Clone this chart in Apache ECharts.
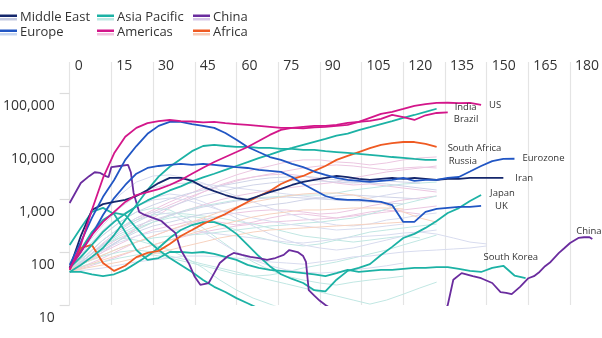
<!DOCTYPE html>
<html>
<head>
<meta charset="utf-8">
<script src="https://cdn.jsdelivr.net/npm/echarts@6/dist/echarts.min.js"></script>
<style>
  html, body { margin: 0; padding: 0; background: #fff; }
  #chart { width: 602px; height: 338px; }
</style>
</head>
<body>
<div id="chart"></div>
<script>
// Days since the outbreak took hold (x), 7-day average of new cases (log y)
const xTicks = [0, 15, 30, 45, 60, 75, 90, 105, 120, 135, 150, 165, 180];
const yTicks = [10, 100, 1000, 10000, 100000];

// Highlighted countries, one value every 4 days from day 0
const usCases = [46, 136, 620, 2500, 7300, 15000, 22000, 27000, 29500, 31000, 29500, 29000, 28000, 28500, 27000, 26000, 25000, 24000, 23000, 22000, 22000, 21500, 22500, 23000, 24000, 25000, 28500, 34000, 40500, 44000, 50000, 57000, 62000, 65000, 65500, 64500, 65000, 60000];
const brazilCases = [50, 100, 210, 370, 570, 880, 1190, 1350, 1540, 1840, 2290, 3000, 3900, 5000, 6200, 7700, 9600, 12400, 16200, 20200, 22000, 23000, 24000, 24000, 25000, 27300, 28500, 29800, 32500, 38800, 35000, 31000, 38000, 42000, 43000];
const indiaCases = [50, 80, 136, 240, 370, 530, 720, 940, 1170, 1450, 1730, 2150, 2550, 3000, 3550, 4200, 4950, 5900, 6900, 8100, 9200, 10500, 12000, 13700, 15700, 17200, 20000, 22700, 26000, 29500, 33800, 38500, 44000, 50500];
const russiaCases = [42, 57, 81, 119, 209, 402, 772, 1480, 2640, 4060, 5700, 8000, 10000, 10500, 10000, 9600, 9600, 9200, 9200, 8800, 8800, 8450, 8450, 8000, 7700, 7400, 7100, 6800, 6500, 6200, 5950, 5700, 5470, 5470];
const southAfricaCases = [46, 120, 136, 62, 44, 55, 80, 96, 105, 142, 200, 260, 340, 420, 520, 680, 880, 1140, 1410, 1920, 2380, 2720, 3400, 4200, 5470, 6500, 7700, 9100, 10500, 11300, 11900, 11900, 11000, 9600];
const eurozoneCases = [57, 154, 440, 1100, 2290, 5470, 10000, 17000, 24000, 28500, 28500, 26000, 24000, 22000, 17600, 13100, 9600, 7700, 6200, 5470, 4600, 4000, 3300, 2850, 2500, 2290, 2200, 2100, 2200, 2290, 2500, 2200, 2290, 2290, 2500, 2600, 3300, 4200, 5200, 5700, 5750];
const iranCases = [50, 200, 620, 800, 880, 960, 1140, 1480, 2000, 2500, 2500, 2200, 1700, 1410, 1190, 1040, 960, 1140, 1350, 1550, 1840, 2100, 2290, 2500, 2730, 2600, 2400, 2290, 2400, 2500, 2400, 2500, 2400, 2290, 2400, 2400, 2500, 2500, 2500, 2500];
const ukCases = [50, 100, 210, 500, 1040, 1840, 3000, 3850, 4200, 4400, 4600, 4400, 4600, 4400, 4200, 4000, 3850, 3540, 3400, 3250, 2600, 1920, 1480, 1140, 1000, 960, 960, 920, 880, 770, 370, 370, 570, 650, 680, 710, 710, 740];
const japanCases = [42, 42, 38, 35, 38, 46, 62, 84, 119, 184, 260, 323, 366, 366, 310, 220, 136, 84, 54, 38, 31, 26, 19, 18, 30, 44, 50, 59, 88, 125, 184, 220, 285, 385, 545, 675, 920, 1190];
const southKoreaCases = [136, 285, 570, 680, 520, 240, 109, 71, 77, 100, 100, 96, 100, 92, 81, 71, 57, 50, 46, 44, 42, 40, 38, 35, 40, 46, 42, 44, 46, 46, 48, 50, 50, 52, 52, 48, 44, 42, 50, 55, 36, 32];
const australiaCases = [50, 109, 238, 402, 545, 500, 284, 168, 109, 77, 57, 42, 29.6, 22, 17.6, 13.5, 10.8, 8.6];

// China has irregular sampling around its sharp drops
const chinaDays = [0, 2, 4, 7, 9, 11, 13, 14, 15, 18, 21, 22, 23, 25, 27, 30, 33, 35, 38, 40, 43, 45, 47, 50, 52, 54, 57, 59, 62, 65, 68, 71, 74, 77, 79, 82, 84, 85, 86, 88, 90, 92, 95, 100, 110, 120, 130, 134, 136, 138, 141, 145, 148, 152, 155, 157, 159, 162, 165, 167, 169, 171, 173, 176, 178, 180, 183, 185, 187, 188];
const chinaCases = [840, 1300, 2000, 2700, 3200, 3100, 2700, 2600, 4000, 4200, 4400, 3200, 1300, 570, 500, 440, 385, 310, 230, 109, 59, 34, 24, 26, 40, 62, 84, 96, 88, 81, 77, 71, 77, 88, 109, 100, 84, 65, 19, 15, 12, 10, 8, 6, 4, 3, 5, 6, 10, 30, 40, 35, 32, 26, 17.5, 17, 16, 22, 32, 35, 42, 54, 65, 96, 119, 148, 184, 190, 190, 176];

// Other countries in the background, one value every 6 days from day 0
const otherAmericasA = [50, 88, 168, 284, 438, 621, 879, 1190, 1610, 2190, 2850, 3540, 4200, 5010, 5470, 5470, 5010, 4800, 4400, 4800, 5470, 5960, 6230];
const otherAmericasB = [46, 65, 100, 168, 284, 438, 677, 960, 1355, 1840, 2290, 2600, 2850, 2970, 2720, 2290, 2000, 1840, 1920, 1760, 1610, 1480, 1355];
const otherAmericasC = [50, 71, 119, 184, 260, 366, 500, 621, 772, 960, 1140, 1300, 1480, 1610, 1760, 1920, 2090, 2500, 2850, 3240, 3540, 3850, 4200];
const otherAmericasD = [42, 57, 77, 109, 154, 200, 260, 323, 402, 478, 545, 594, 621, 621, 569, 521, 545, 621, 739, 842, 960, 1045, 1140];
const otherAmericasE = [46, 77, 148, 260, 402, 569, 772, 1045, 1355, 1760, 2190, 2600, 2970, 3390, 3850, 4200, 4400, 4200, 3850, 3540, 3850, 4030, 3850];
const otherAmericasF = [42, 52, 65, 84, 109, 136, 168, 200, 238, 272, 310, 337, 366, 383, 402, 420, 438, 478, 521, 569, 621, 677, 739];
const otherAmericasG = [46, 65, 100, 142, 200, 260, 310, 366, 402, 366, 323, 366, 438, 500, 521, 478, 438, 500, 569, 621, 569, 521];
const otherAsiaA = [50, 109, 209, 366, 569, 677, 621, 438, 284, 168, 100, 65, 46, 35, 29.6, 26, 23.8, 27, 29.6, 32, 35];
const otherAsiaB = [46, 65, 109, 168, 260, 366, 478, 621, 739, 842, 960, 1045, 1090, 1140, 1190, 1190, 1300, 1480, 1610, 1760, 1920, 2000, 2090];
const otherAsiaC = [46, 77, 136, 184, 168, 136, 109, 77, 50, 29.6, 19.2, 13.5, 10.4, 8];
const otherAsiaD = [50, 65, 88, 119, 154, 184, 200, 209, 218, 238, 260, 284, 310, 323, 350, 366, 402, 438, 521, 648, 806, 960, 1140];
const otherAsiaE = [46, 57, 65, 77, 88, 88, 77, 65, 55, 46, 38, 35, 36.8, 42, 50, 57, 65, 77, 92, 109, 136, 168, 209];
const otherAsiaF = [50, 88, 168, 284, 402, 500, 545, 521, 478, 438, 383, 337, 284, 238, 200, 184, 168, 154, 168, 184, 200, 184];
const otherAsiaG = [46, 65, 84, 100, 109, 100, 84, 71, 59, 50, 42, 35, 29.6, 25, 21, 17.6, 14.8, 12.4, 10.4, 12.4, 16, 21, 27];
const otherAsiaH = [50, 77, 130, 200, 284, 366, 438, 478, 438, 337, 260, 200, 168, 142, 130, 142, 168, 200, 238, 260, 284, 310, 337];
const otherEuropeA = [55, 168, 500, 1190, 2090, 2720, 2850, 2500, 2000, 1480, 1140, 879, 677, 545, 438, 366, 323, 310, 337, 402, 438, 500, 545];
const otherEuropeB = [50, 109, 238, 438, 739, 1045, 1245, 1140, 879, 621, 438, 310, 218, 168, 136, 119, 109, 119, 142, 168, 200, 238, 260];
const otherEuropeC = [46, 84, 168, 284, 438, 569, 521, 366, 238, 154, 100, 71, 55, 46, 42, 40, 42, 46, 50, 55, 62];
const otherEuropeD = [50, 136, 323, 677, 1140, 1610, 1920, 2000, 1920, 1760, 1610, 1480, 1355, 1245, 1140, 1045, 960, 960, 1045, 1190, 1355];
const otherEuropeE = [46, 71, 109, 154, 200, 238, 260, 260, 238, 218, 200, 184, 168, 154, 148, 160, 176, 192, 200, 209, 228, 238, 218, 184, 154, 142];
const otherEuropeF = [42, 46, 50, 57, 65, 71, 77, 84, 84, 81, 77, 71, 65, 62, 59, 65, 71, 81, 84, 92, 100, 105, 109, 114, 119, 130];
const otherEuropeG = [50, 119, 260, 478, 739, 960, 1045, 960, 772, 621, 521, 438, 383, 337, 310, 284, 260, 272, 284, 310, 337];
const otherMiddleEastA = [50, 109, 209, 366, 569, 772, 1000, 1245, 1480, 1760, 2000, 2290, 2500, 2600, 2720, 2500, 2290, 2090, 2000, 1920, 1760, 1610, 1480];
const otherMiddleEastB = [46, 77, 136, 218, 310, 402, 500, 594, 707, 806, 918, 1000, 1045, 1090, 1045, 1000, 960, 918, 879, 842, 806];
const otherMiddleEastC = [46, 77, 142, 238, 366, 521, 707, 918, 1140, 1355, 1610, 1840, 2000, 2190, 2290, 2190, 2090, 2000, 2090, 2190, 2090, 2000];
const otherMiddleEastD = [46, 71, 109, 168, 238, 310, 366, 438, 521, 569, 621, 707, 772, 842, 960, 1045, 1140, 1190, 1140, 1090, 1045, 1000];
const otherAfricaA = [46, 65, 88, 119, 154, 200, 260, 337, 438, 569, 707, 879, 1000, 1140, 1245, 1300, 1300, 1190, 1000, 772, 569, 438, 366];
const otherAfricaB = [42, 55, 71, 88, 109, 136, 168, 209, 260, 323, 383, 458, 521, 569, 621, 621, 648, 677, 677, 677, 648];
const otherAfricaC = [42, 50, 57, 65, 77, 92, 109, 130, 154, 184, 209, 238, 260, 272, 284, 297, 310, 323, 337, 350, 366];

const FONT = '"Open Sans", "Noto Sans", sans-serif';
const TEXT = '#333333';

const palette = {
  'Middle East': { strong: '#15276c', soft: '#c3c9e0' },
  'Europe':      { strong: '#2156c4', soft: '#c7d6f1' },
  'Asia Pacific':{ strong: '#1cb2a5', soft: '#bde8e3' },
  'Americas':    { strong: '#d3168a', soft: '#f1c4df' },
  'China':       { strong: '#6a2c9e', soft: '#d6c6e7' },
  'Africa':      { strong: '#ef5a22', soft: '#f9cbb5' }
};

const faintColour = {
  'Middle East': '#d0d4e8',
  'Europe': '#d8dcef',
  'Asia Pacific': '#c1e7e3',
  'Americas': '#ecc7e1',
  'Africa': '#f7d2bf'
};

function stepped(values, step) {
  return values.map((v, i) => [i * step, v]);
}

function background(values, region) {
  return {
    type: 'line', name: 'other', data: stepped(values, 6),
    showSymbol: false, silent: true, z: 1,
    lineStyle: { width: 1, color: faintColour[region] },
    emphasis: { disabled: true }
  };
}

function highlight(region, label, data, offset) {
  const s = {
    type: 'line', name: region, data: data,
    showSymbol: false, silent: true, z: 3,
    color: palette[region].strong,
    lineStyle: { width: 1.8, color: palette[region].strong },
    emphasis: { disabled: true }
  };
  if (label) {
    s.endLabel = {
      show: true, formatter: label, offset: offset,
      fontFamily: FONT, fontSize: 9.5, color: TEXT
    };
  }
  return s;
}

const series = [
  background(otherAmericasA, 'Americas'),
  background(otherAmericasB, 'Americas'),
  background(otherAmericasC, 'Americas'),
  background(otherAmericasD, 'Americas'),
  background(otherAmericasE, 'Americas'),
  background(otherAmericasF, 'Americas'),
  background(otherAmericasG, 'Americas'),
  background(otherAsiaA, 'Asia Pacific'),
  background(otherAsiaB, 'Asia Pacific'),
  background(otherAsiaC, 'Asia Pacific'),
  background(otherAsiaD, 'Asia Pacific'),
  background(otherAsiaE, 'Asia Pacific'),
  background(otherAsiaF, 'Asia Pacific'),
  background(otherAsiaG, 'Asia Pacific'),
  background(otherAsiaH, 'Asia Pacific'),
  background(otherEuropeA, 'Europe'),
  background(otherEuropeB, 'Europe'),
  background(otherEuropeC, 'Europe'),
  background(otherEuropeD, 'Europe'),
  background(otherEuropeE, 'Europe'),
  background(otherEuropeF, 'Europe'),
  background(otherEuropeG, 'Europe'),
  background(otherMiddleEastA, 'Middle East'),
  background(otherMiddleEastB, 'Middle East'),
  background(otherMiddleEastC, 'Middle East'),
  background(otherMiddleEastD, 'Middle East'),
  background(otherAfricaA, 'Africa'),
  background(otherAfricaB, 'Africa'),
  background(otherAfricaC, 'Africa'),

  highlight('Asia Pacific', null, stepped(australiaCases, 4)),
  highlight('Asia Pacific', 'South Korea', stepped(southKoreaCases, 4), [-50, -21]),
  highlight('Asia Pacific', 'Japan', stepped(japanCases, 4), [1, -2]),
  highlight('China', 'China', chinaDays.map((d, i) => [d, chinaCases[i]]), [-24, -8]),
  highlight('Africa', 'South Africa', stepped(southAfricaCases, 4), [3, 1]),
  highlight('Asia Pacific', 'Russia', stepped(russiaCases, 4), [4, 1]),
  highlight('Asia Pacific', 'India', stepped(indiaCases, 4), [10, -1]),
  highlight('Europe', 'UK', stepped(ukCases, 4), [6, 0]),
  highlight('Middle East', 'Iran', stepped(iranCases, 4), [4, 0]),
  highlight('Europe', 'Eurozone', stepped(eurozoneCases, 4), [0, 0]),
  highlight('Americas', 'Brazil', stepped(brazilCases, 4), [-2, 7]),
  highlight('Americas', 'US', stepped(usCases, 4), [0, 1])
];

// Legend: a dark stripe over a pale one for each region
const legendLayout = [
  ['Middle East', 0, 11], ['Asia Pacific', 97, 11], ['China', 193, 11],
  ['Europe', 0, 26], ['Americas', 97, 26], ['Africa', 193, 26]
];
const legends = legendLayout.map(([name, left, top]) => ({
  left: left, top: top, padding: 0, selectedMode: false,
  icon: 'rect', itemWidth: 17, itemHeight: 6,
  textStyle: { fontFamily: FONT, fontSize: 13, color: TEXT, padding: [0, 0, 0, -2] },
  data: [{
    name: name,
    itemStyle: {
      color: {
        type: 'linear', x: 0, y: 0, x2: 0, y2: 1,
        colorStops: [
          { offset: 0, color: palette[name].strong },
          { offset: 0.42, color: palette[name].strong },
          { offset: 0.42, color: '#ffffff' },
          { offset: 0.58, color: '#ffffff' },
          { offset: 0.58, color: palette[name].soft },
          { offset: 1, color: palette[name].soft }
        ]
      },
      borderWidth: 0
    }
  }]
}));

const chart = echarts.init(document.getElementById('chart'), null, { renderer: 'canvas' });
chart.setOption({
  animation: false,
  backgroundColor: '#ffffff',
  textStyle: { fontFamily: FONT },
  legend: legends,
  grid: { left: 68, right: 3, top: 62, bottom: 33, containLabel: false },
  xAxis: {
    type: 'value', position: 'top', min: 0, max: 190,
    axisLine: { show: false },
    axisTick: { show: false, customValues: xTicks },
    axisLabel: {
      customValues: xTicks, inside: true, margin: -3,
      align: 'left', verticalAlign: 'top', padding: [0, 0, 0, 5],
      fontFamily: FONT, fontSize: 14, color: TEXT
    },
    splitLine: { show: true, lineStyle: { color: '#e4e4e4', width: 1.2 } }
  },
  yAxis: {
    type: 'log', logBase: 10, min: 10, max: 385000,
    axisLine: { show: false },
    axisTick: { show: true, length: 10, customValues: yTicks, lineStyle: { color: '#dcdcdc', width: 1.2 } },
    axisLabel: {
      customValues: yTicks, margin: 15, verticalAlign: 'top', lineHeight: 14, padding: [6, 0, 0, 0],
      fontFamily: FONT, fontSize: 14, color: TEXT,
      formatter: v => Math.round(v).toLocaleString('en-US')
    },
    splitLine: { show: false }
  },
  series: series
});
</script>
</body>
</html>
